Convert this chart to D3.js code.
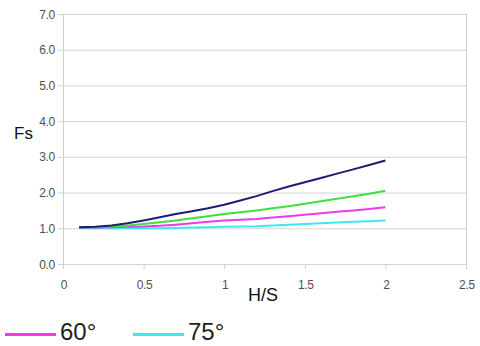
<!DOCTYPE html>
<html>
<head>
<meta charset="utf-8">
<script src="https://cdn.jsdelivr.net/npm/d3@7"></script>
<style>
  html, body { margin: 0; padding: 0; background: #fff; }
  svg { display: block; }
</style>
</head>
<body>
<svg id="chart" width="480" height="346"></svg>
<script>
const xValues = [0.1,0.2,0.3,0.4,0.5,0.6,0.7,0.8,0.9,1.0,1.1,1.2,1.3,1.4,1.5,1.6,1.7,1.8,1.9,2.0];
const seriesNavy    = [1.03,1.04,1.08,1.14,1.22,1.31,1.40,1.48,1.56,1.66,1.78,1.90,2.04,2.17,2.29,2.41,2.53,2.65,2.77,2.90];
const seriesGreen   = [1.03,1.03,1.05,1.08,1.12,1.17,1.22,1.28,1.34,1.40,1.45,1.50,1.56,1.62,1.69,1.76,1.83,1.90,1.97,2.05];
const seriesMagenta = [1.02,1.02,1.03,1.04,1.05,1.07,1.10,1.14,1.18,1.22,1.24,1.26,1.30,1.34,1.38,1.42,1.46,1.50,1.54,1.59];
const seriesCyan    = [1.00,1.00,1.00,1.00,1.00,1.00,1.01,1.02,1.03,1.04,1.05,1.06,1.08,1.10,1.12,1.14,1.16,1.18,1.20,1.22];
const seriesNames = ["30°","45°","60°","75°"];
const legendNames = ["60°","75°"];
const xTicks = [0,0.5,1,1.5,2,2.5];
const xTickLabels = ["0","0.5","1","1.5","2","2.5"];
const yTicks = [0,1,2,3,4,5,6,7];
const yTickLabels = ["0.0","1.0","2.0","3.0","4.0","5.0","6.0","7.0"];
const xTitle = "H/S";
const yTitle = "Fs";

const colors = {"30°":"#1c1c78","45°":"#3ee03e","60°":"#ee3aee","75°":"#3ee8ee"};
const seriesData = [seriesNavy, seriesGreen, seriesMagenta, seriesCyan];

const svg = d3.select("#chart");
const x = d3.scaleLinear().domain([0,2.5]).range([63,466]);
const y = d3.scaleLinear().domain([0,7]).range([264,14]);

// horizontal gridlines
svg.append("g").selectAll("line").data(yTicks).join("line")
  .attr("x1", x(0)).attr("x2", x(2.5))
  .attr("y1", d => y(d)+0.5).attr("y2", d => y(d)+0.5)
  .attr("stroke", "#d4d4d4").attr("stroke-width", 1);

// left axis line and right border
svg.append("line").attr("x1", x(0)+0.5).attr("x2", x(0)+0.5)
  .attr("y1", y(7)).attr("y2", y(0)+1).attr("stroke", "#cfcfcf");
svg.append("line").attr("x1", x(2.5)+0.5).attr("x2", x(2.5)+0.5)
  .attr("y1", y(7)).attr("y2", y(0)+1).attr("stroke", "#cfcfcf");

// y ticks
svg.append("g").selectAll("line").data(yTicks).join("line")
  .attr("x1", x(0)-5).attr("x2", x(0))
  .attr("y1", d => y(d)+0.5).attr("y2", d => y(d)+0.5)
  .attr("stroke", "#cfcfcf");
svg.append("g").selectAll("text").data(yTicks).join("text")
  .attr("x", 55).attr("y", d => y(d)+4.5)
  .attr("text-anchor", "end")
  .attr("font-family", "Liberation Sans, Arial, sans-serif")
  .attr("font-size", 12).attr("fill", "#505050")
  .attr("letter-spacing", "-0.3")
  .text((d,i) => yTickLabels[i]);

// x ticks
svg.append("g").selectAll("line").data(xTicks).join("line")
  .attr("x1", d => x(d)+0.5).attr("x2", d => x(d)+0.5)
  .attr("y1", y(0)).attr("y2", y(0)+5)
  .attr("stroke", "#cfcfcf");
svg.append("g").selectAll("text").data(xTicks).join("text")
  .attr("x", d => x(d)+1).attr("y", 289)
  .attr("text-anchor", "middle")
  .attr("font-family", "Liberation Sans, Arial, sans-serif")
  .attr("font-size", 12).attr("fill", "#505050")
  .attr("letter-spacing", "-0.3")
  .text((d,i) => xTickLabels[i]);

// titles
svg.append("text").attr("x", 263).attr("y", 301).attr("text-anchor", "middle")
  .attr("font-family", "Liberation Sans, Arial, sans-serif").attr("font-size", 18)
  .attr("fill", "#111").text(xTitle);
svg.append("text").attr("x", 14).attr("y", 139)
  .attr("font-family", "Liberation Sans, Arial, sans-serif").attr("font-size", 17)
  .attr("fill", "#111").text(yTitle);

// lines
const line = d3.line().x(d => x(d[0])).y(d => y(d[1]));
const order = [3,2,1,0];
svg.append("g").selectAll("path").data(order).join("path")
  .attr("d", i => line(xValues.map((xv,k) => [xv, seriesData[i][k]])))
  .attr("fill", "none")
  .attr("stroke", i => colors[seriesNames[i]])
  .attr("stroke-width", 2)
  .attr("stroke-linejoin", "round");

// legend
const legendX = [5, 133];
const lg = svg.append("g").selectAll("g").data(legendNames).join("g");
lg.append("line")
  .attr("x1", (d,i) => legendX[i]).attr("x2", (d,i) => legendX[i]+51)
  .attr("y1", 334.5).attr("y2", 334.5)
  .attr("stroke", d => colors[d]).attr("stroke-width", 3);
lg.append("text")
  .attr("x", (d,i) => legendX[i]+55).attr("y", 340)
  .attr("font-family", "Liberation Sans Narrow, Liberation Sans, Arial, sans-serif")
  .attr("font-size", 24).attr("fill", "#222")
  .text(d => d);
</script>
</body>
</html>
